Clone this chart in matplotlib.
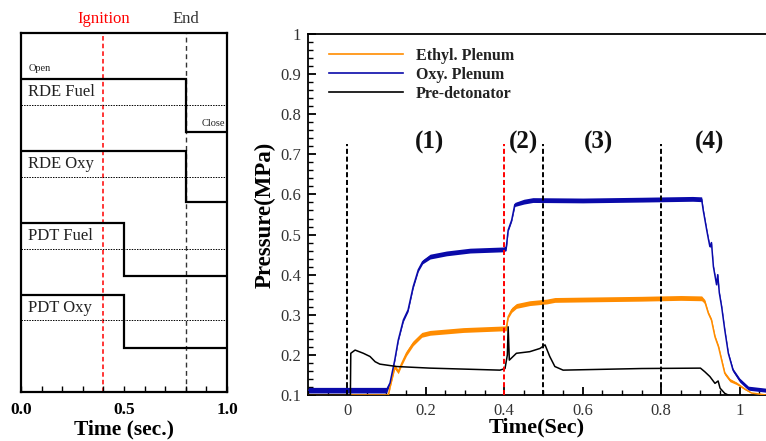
import matplotlib
matplotlib.use("Agg")
import matplotlib.pyplot as plt
from matplotlib.ticker import MultipleLocator, FixedLocator, FuncFormatter
import matplotlib.transforms as mtransforms

plt.rcParams['font.family'] = ['Liberation Serif', 'DejaVu Serif']

# ---------------- Left panel: valve sequence ----------------
channels = ["RDE Fuel", "RDE Oxy", "PDT Fuel", "PDT Oxy"]
close_times = [0.8, 0.8, 0.5, 0.5]
open_levels = [11.65, 8.95, 6.3, 3.6]
mid_levels = [10.67, 7.99, 5.3, 2.67]
close_levels = [9.67, 7.05, 4.3, 1.65]
ignition_time = 0.4
end_time = 0.8
left_xticks = [0.0, 0.5, 1.0]
left_xticklabels = ["0.0", "0.5", "1.0"]

# ---------------- Right panel: pressure traces ----------------
ethyl_t = [-0.1, 0.105, 0.109, 0.121, 0.13, 0.139, 0.151, 0.168, 0.19, 0.211, 0.296, 0.398,
           0.405, 0.41, 0.419, 0.431, 0.465, 0.508, 0.529, 0.6, 0.75, 0.85, 0.903, 0.911,
           0.92, 0.928, 0.937, 0.946, 0.954, 0.962, 0.975, 0.992, 1.013, 1.03, 1.067]
ethyl_p = [0.10, 0.10, 0.12, 0.17, 0.158, 0.179, 0.204, 0.229, 0.25, 0.255, 0.262, 0.266,
           0.266, 0.295, 0.312, 0.322, 0.329, 0.333, 0.337, 0.338, 0.34, 0.342, 0.341, 0.333,
           0.304, 0.287, 0.245, 0.22, 0.187, 0.154, 0.137, 0.129, 0.115, 0.105, 0.10]
ethyl_band = [0.0, 0.0, 0.003, 0.005, 0.005, 0.005, 0.006, 0.006, 0.006, 0.006, 0.006, 0.006,
              0.006, 0.004, 0.006, 0.006, 0.006, 0.006, 0.006, 0.006, 0.006, 0.006, 0.006, 0.005,
              0.004, 0.004, 0.004, 0.004, 0.004, 0.004, 0.004, 0.003, 0.002, 0.0, 0.0]

oxy_t = [-0.1, 0.0, 0.1, 0.109, 0.121, 0.13, 0.143, 0.155, 0.168, 0.181, 0.192, 0.211, 0.253,
         0.313, 0.398, 0.405, 0.41, 0.419, 0.427, 0.45, 0.473, 0.6, 0.75, 0.88, 0.903, 0.907,
         0.916, 0.92, 0.924, 0.928, 0.933, 0.941, 0.944, 0.948, 0.954, 0.962, 0.971, 0.983,
         1.0, 1.022, 1.067]
oxy_p = [0.112, 0.112, 0.112, 0.13, 0.187, 0.237, 0.287, 0.312, 0.37, 0.412, 0.432, 0.445, 0.453,
         0.46, 0.463, 0.466, 0.511, 0.536, 0.575, 0.582, 0.586, 0.585, 0.587, 0.589, 0.588, 0.561,
         0.511, 0.49, 0.47, 0.48, 0.42, 0.375, 0.40, 0.355, 0.32, 0.262, 0.204, 0.162,
         0.137, 0.117, 0.112]
oxy_band = [0.007, 0.007, 0.007, 0.004, 0.003, 0.003, 0.004, 0.004, 0.004, 0.004, 0.005, 0.006, 0.006,
            0.006, 0.006, 0.006, 0.003, 0.003, 0.005, 0.006, 0.006, 0.006, 0.006, 0.006, 0.006, 0.004,
            0.003, 0.003, 0.003, 0.003, 0.003, 0.003, 0.003, 0.003, 0.003, 0.003, 0.003, 0.004,
            0.005, 0.005, 0.005]

pdt_t = [-0.1, 0.008, 0.009, 0.02, 0.041, 0.058, 0.071, 0.083, 0.126, 0.211, 0.389, 0.402,
         0.408, 0.41, 0.413, 0.431, 0.465, 0.491, 0.504, 0.516, 0.529, 0.55, 0.6, 0.75, 0.9,
         0.911, 0.924, 0.937, 0.945, 0.95, 0.962, 0.975, 1.067]
pdt_p = [0.10, 0.10, 0.204, 0.212, 0.204, 0.196, 0.183, 0.177, 0.171, 0.167, 0.162, 0.166,
         0.20, 0.27, 0.187, 0.204, 0.208, 0.216, 0.225, 0.196, 0.171, 0.162, 0.163, 0.166, 0.167,
         0.158, 0.146, 0.129, 0.135, 0.117, 0.104, 0.098, 0.098]

series_names = ["Ethyl. Plenum", "Oxy. Plenum", "Pre-detonator"]
phase_lines = [0.0, 0.4, 0.5, 0.8]
phase_line_colors = ["black", "red", "black", "black"]
phase_line_top = 0.725
phase_labels = ["(1)", "(2)", "(3)", "(4)"]
phase_label_x = [0.21, 0.448, 0.639, 0.924]
phase_label_y = 0.73

ORANGE = "#FF8C00"
BLUE = "#0A0AAA"

fig = plt.figure(figsize=(7.66, 4.41), dpi=100)

# ---- Left axes ----
W, H = 766, 441
ax1 = fig.add_axes([21 / W, 1 - 392 / H, 206 / W, 359 / H])
ax1.set_xlim(0, 1)
ax1.set_ylim(0, 13.35)
for i, name in enumerate(channels):
    tc = close_times[i]
    ax1.plot([0, tc, tc, 1], [open_levels[i], open_levels[i], close_levels[i], close_levels[i]],
             color="black", lw=1.6, solid_joinstyle="miter", zorder=3)
    ax1.axhline(mid_levels[i], color="black", lw=0.7, ls=(0, (1.5, 1.2)), zorder=2)
    ax1.text(0.035, (open_levels[i] + mid_levels[i]) / 2, name, fontsize=12,
             ha="left", va="center", color="#222222")
ax1.text(0.035, open_levels[0] + 0.37, "Open", fontsize=7.5, ha="left", va="center", color="#222222")
ax1.text(0.99, close_levels[0] + 0.3, "Close", fontsize=7.5, ha="right", va="center", color="#222222")
ax1.axvline(ignition_time, color="red", lw=1.1, ls=(0, (3, 2)), zorder=1)
ax1.axvline(end_time, color="#333333", lw=1.0, ls=(0, (3.5, 2.5)), zorder=1)
trans1 = mtransforms.blended_transform_factory(ax1.transData, ax1.transAxes)
ax1.text(ignition_time, 1.038, "Ignition", color="red", fontsize=12, ha="center", va="center",
         transform=trans1)
ax1.text(end_time, 1.038, "End", color="#333333", fontsize=12, ha="center", va="center",
         transform=trans1)
for s in ax1.spines.values():
    s.set_linewidth(1.6)
ax1.set_yticks([])
ax1.xaxis.set_major_locator(FixedLocator(left_xticks))
ax1.set_xticklabels(left_xticklabels, fontsize=12.5, fontweight="bold")
ax1.xaxis.set_minor_locator(MultipleLocator(0.1))
ax1.tick_params(axis="x", which="both", direction="in", length=4, width=1.0, pad=7)
ax1.set_xlabel("Time (sec.)", fontsize=15.5, fontweight="bold", labelpad=1)

# ---- Right axes ----
ax2 = fig.add_axes([308 / W, 1 - 395 / H, 458 / W, 361 / H])
ax2.set_xlim(-0.1, 1.067)
ax2.set_ylim(0.1, 1.0)

ax2.fill_between(ethyl_t, [p - b for p, b in zip(ethyl_p, ethyl_band)],
                 [p + b for p, b in zip(ethyl_p, ethyl_band)], color=ORANGE, lw=0, zorder=2)
ax2.plot(ethyl_t, ethyl_p, color=ORANGE, lw=1.1, zorder=3, label=series_names[0])
ax2.fill_between(oxy_t, [p - b for p, b in zip(oxy_p, oxy_band)],
                 [p + b for p, b in zip(oxy_p, oxy_band)], color=BLUE, lw=0, zorder=2)
ax2.plot(oxy_t, oxy_p, color=BLUE, lw=1.1, zorder=3, label=series_names[1])
ax2.plot(pdt_t, pdt_p, color="black", lw=1.1, zorder=4, label=series_names[2])

for x, c in zip(phase_lines, phase_line_colors):
    ax2.plot([x, x], [0.1, phase_line_top], color=c, lw=1.4, ls=(0, (2.6, 1.4)), zorder=5)
for lab, x in zip(phase_labels, phase_label_x):
    ax2.text(x, phase_label_y, lab, fontsize=18, fontweight="bold", ha="center", va="center",
             color="#111111")

ax2.spines["right"].set_visible(False)
for k in ["left", "bottom", "top"]:
    ax2.spines[k].set_linewidth(1.3)
ax2.xaxis.set_major_locator(MultipleLocator(0.2))
ax2.xaxis.set_minor_locator(MultipleLocator(0.05))
ax2.yaxis.set_major_locator(MultipleLocator(0.1))
ax2.yaxis.set_minor_locator(MultipleLocator(0.02))


def fmt(v, pos):
    s = "%.1f" % v
    if abs(v) < 1e-9:
        return "0"
    if abs(v - 1) < 1e-9:
        return "1"
    return s


ax2.xaxis.set_major_formatter(FuncFormatter(fmt))
ax2.yaxis.set_major_formatter(FuncFormatter(fmt))
ax2.tick_params(which="major", direction="in", length=6, width=1.3, labelsize=12, colors="black",
                labelcolor="#333333", top=False, right=False)
ax2.tick_params(which="minor", direction="in", length=3.5, width=1.0, top=False, right=False)
ax2.tick_params(axis="x", which="major", pad=6)
ax2.tick_params(axis="y", which="major", pad=5)
ax2.set_ylabel("Pressure(MPa)", fontsize=16.5, fontweight="bold", labelpad=3)
ax2.set_xlabel("Time(Sec)", fontsize=16, fontweight="bold", labelpad=-1)

leg = ax2.legend(loc="upper left", bbox_to_anchor=(0.046, 0.961), frameon=False,
                 handlelength=4.6, handletextpad=0.85, labelspacing=0.18, borderpad=0,
                 borderaxespad=0, prop={"weight": "bold", "size": 11.5})
for t in leg.get_texts():
    t.set_color("#222222")
for h in leg.get_lines():
    h.set_linewidth(1.2)

fig.savefig("out.png", dpi=100)
